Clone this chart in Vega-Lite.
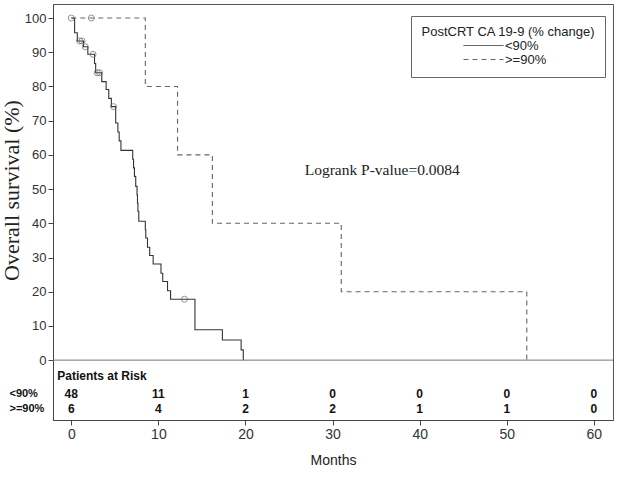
{
  "$schema": "https://vega.github.io/schema/vega-lite/v6.json",
  "width": 560,
  "height": 416,
  "padding": {"left": 0, "top": 4, "right": 5, "bottom": 5},
  "background": "white",
  "config": {
    "view": {"stroke": "#555", "strokeWidth": 1},
    "font": "Liberation Sans",
    "axis": {"grid": false, "domainColor": "#444", "tickColor": "#444", "labelColor": "#333", "titleColor": "#222", "labelFont": "Liberation Sans"}
  },
  "datasets": {
    "one": [{}],
    "km": [
      {"group": "<90%", "time": 0, "surv": 100},
      {"group": "<90%", "time": 0.38, "surv": 95.7},
      {"group": "<90%", "time": 0.69, "surv": 93.3},
      {"group": "<90%", "time": 1.4, "surv": 91.6},
      {"group": "<90%", "time": 1.9, "surv": 89.4},
      {"group": "<90%", "time": 2.67, "surv": 86.7},
      {"group": "<90%", "time": 2.8, "surv": 84.0},
      {"group": "<90%", "time": 3.5, "surv": 81.4},
      {"group": "<90%", "time": 4.0, "surv": 79.1},
      {"group": "<90%", "time": 4.3, "surv": 76.5},
      {"group": "<90%", "time": 4.6, "surv": 74.1},
      {"group": "<90%", "time": 5.1, "surv": 69.3},
      {"group": "<90%", "time": 5.35, "surv": 66.7},
      {"group": "<90%", "time": 5.5, "surv": 64.1},
      {"group": "<90%", "time": 5.7, "surv": 61.3},
      {"group": "<90%", "time": 7.05, "surv": 58.7},
      {"group": "<90%", "time": 7.15, "surv": 56.2},
      {"group": "<90%", "time": 7.25, "surv": 53.7},
      {"group": "<90%", "time": 7.4, "surv": 50.8},
      {"group": "<90%", "time": 7.55, "surv": 48.3},
      {"group": "<90%", "time": 7.6, "surv": 45.9},
      {"group": "<90%", "time": 7.65, "surv": 43.5},
      {"group": "<90%", "time": 7.75, "surv": 40.6},
      {"group": "<90%", "time": 8.5, "surv": 38.2},
      {"group": "<90%", "time": 8.55, "surv": 35.7},
      {"group": "<90%", "time": 8.75, "surv": 33.0},
      {"group": "<90%", "time": 9.0, "surv": 30.6},
      {"group": "<90%", "time": 9.4, "surv": 28.1},
      {"group": "<90%", "time": 10.3, "surv": 25.4},
      {"group": "<90%", "time": 10.5, "surv": 23.0},
      {"group": "<90%", "time": 11.05, "surv": 20.3},
      {"group": "<90%", "time": 11.4, "surv": 17.8},
      {"group": "<90%", "time": 14.2, "surv": 8.9},
      {"group": "<90%", "time": 17.35, "surv": 5.9},
      {"group": "<90%", "time": 19.5, "surv": 3.0},
      {"group": "<90%", "time": 19.75, "surv": 0},
      {"group": ">=90%", "time": 0, "surv": 100},
      {"group": ">=90%", "time": 8.5, "surv": 80},
      {"group": ">=90%", "time": 12.2, "surv": 60},
      {"group": ">=90%", "time": 16.2, "surv": 40},
      {"group": ">=90%", "time": 31.0, "surv": 20},
      {"group": ">=90%", "time": 52.3, "surv": 0}
    ],
    "censor": [
      {"group": ">=90%", "time": 0, "surv": 100},
      {"group": ">=90%", "time": 2.3, "surv": 100},
      {"group": "<90%", "time": 0.95, "surv": 93.3},
      {"group": "<90%", "time": 1.23, "surv": 93.3},
      {"group": "<90%", "time": 1.6, "surv": 91.6},
      {"group": "<90%", "time": 2.5, "surv": 89.4},
      {"group": "<90%", "time": 2.98, "surv": 84.0},
      {"group": "<90%", "time": 3.25, "surv": 84.0},
      {"group": "<90%", "time": 4.85, "surv": 74.1},
      {"group": "<90%", "time": 13.0, "surv": 17.8}
    ],
    "risk": [
      {"row": "<90%", "time": 0, "n": "48"},
      {"row": "<90%", "time": 10, "n": "11"},
      {"row": "<90%", "time": 20, "n": "1"},
      {"row": "<90%", "time": 30, "n": "0"},
      {"row": "<90%", "time": 40, "n": "0"},
      {"row": "<90%", "time": 50, "n": "0"},
      {"row": "<90%", "time": 60, "n": "0"},
      {"row": ">=90%", "time": 0, "n": "6"},
      {"row": ">=90%", "time": 10, "n": "4"},
      {"row": ">=90%", "time": 20, "n": "2"},
      {"row": ">=90%", "time": 30, "n": "2"},
      {"row": ">=90%", "time": 40, "n": "1"},
      {"row": ">=90%", "time": 50, "n": "1"},
      {"row": ">=90%", "time": 60, "n": "0"}
    ]
  },
  "layer": [
    {
      "data": {"name": "km"},
      "mark": {"type": "line", "interpolate": "step-after", "strokeWidth": 1.1},
      "encoding": {
        "x": {"field": "time", "type": "quantitative", "scale": {"domain": [-2.1, 62.2], "nice": false, "zero": false},
          "axis": {"title": "Months", "values": [0, 10, 20, 30, 40, 50, 60], "labelFontSize": 14, "titleFontSize": 14, "titleFontWeight": "normal", "titleFont": "Liberation Sans", "titlePadding": 12, "tickSize": 5, "labelPadding": 2}},
        "y": {"field": "surv", "type": "quantitative", "scale": {"domain": [-17.5, 104.1], "nice": false, "zero": false},
          "axis": {"title": "Overall survival (%)", "values": [0, 10, 20, 30, 40, 50, 60, 70, 80, 90, 100], "labelFontSize": 13, "titleFont": "Liberation Serif", "titleFontSize": 22, "titleFontWeight": "normal", "titlePadding": 1, "titleY": 186, "tickSize": 5, "labelPadding": 2}},
        "color": {"field": "group", "type": "nominal", "scale": {"domain": ["<90%", ">=90%"], "range": ["#333333", "#666666"]},
          "legend": {"title": "PostCRT CA 19-9 (% change)", "orient": "none", "legendX": 358, "legendY": 12, "symbolType": "M-4,0H4", "symbolSize": 100, "symbolStrokeWidth": 1, "symbolOffset": 7, "labelOffset": 15, "rowPadding": -6, "padding": 10, "strokeColor": "#666", "fillColor": "white", "titleFontWeight": "normal", "titleFontSize": 13, "titleAnchor": "middle", "titlePadding": 0, "labelFontSize": 13, "labelColor": "#222", "titleColor": "#222"}},
        "strokeDash": {"field": "group", "type": "nominal", "scale": {"domain": ["<90%", ">=90%"], "range": [[1, 0], [5, 4]]},
          "legend": {"title": "PostCRT CA 19-9 (% change)", "orient": "none", "legendX": 358, "legendY": 12, "symbolType": "M-4,0H4", "symbolSize": 100, "symbolStrokeWidth": 1, "symbolOffset": 7, "labelOffset": 15, "rowPadding": -6, "padding": 10, "strokeColor": "#666", "fillColor": "white", "titleFontWeight": "normal", "titleFontSize": 13, "titleAnchor": "middle", "titlePadding": 0, "labelFontSize": 13, "labelColor": "#222", "titleColor": "#222"}}
      }
    },
    {
      "data": {"name": "censor"},
      "mark": {"type": "point", "shape": "circle", "filled": false, "size": 36, "stroke": "#666", "strokeWidth": 1},
      "encoding": {
        "x": {"field": "time", "type": "quantitative"},
        "y": {"field": "surv", "type": "quantitative"}
      }
    },
    {
      "data": {"name": "one"},
      "mark": {"type": "rule", "color": "#777", "strokeWidth": 1},
      "encoding": {"y": {"datum": 0}}
    },
    {
      "data": {"name": "one"},
      "mark": {"type": "text", "font": "Liberation Serif", "fontSize": 15.5, "color": "#222", "align": "center", "baseline": "middle"},
      "encoding": {"x": {"datum": 35.7}, "y": {"datum": 55.6}, "text": {"value": "Logrank P-value=0.0084"}}
    },
    {
      "data": {"name": "one"},
      "mark": {"type": "text", "fontSize": 12, "fontWeight": "bold", "color": "#111", "align": "left", "baseline": "middle"},
      "encoding": {"x": {"datum": -1.6}, "y": {"datum": -4.6}, "text": {"value": "Patients at Risk"}}
    },
    {
      "data": {"name": "one"},
      "mark": {"type": "text", "fontSize": 11, "fontWeight": "bold", "color": "#111", "align": "left", "baseline": "middle"},
      "encoding": {"x": {"datum": -7.1}, "y": {"datum": -10.0}, "text": {"value": "<90%"}}
    },
    {
      "data": {"name": "one"},
      "mark": {"type": "text", "fontSize": 11, "fontWeight": "bold", "color": "#111", "align": "left", "baseline": "middle"},
      "encoding": {"x": {"datum": -7.1}, "y": {"datum": -14.4}, "text": {"value": ">=90%"}}
    },
    {
      "data": {"name": "risk"},
      "transform": [{"filter": "datum.row === '<90%'"}],
      "mark": {"type": "text", "fontSize": 12, "fontWeight": "bold", "color": "#111", "align": "center", "baseline": "middle"},
      "encoding": {"x": {"field": "time", "type": "quantitative"}, "y": {"datum": -10.0}, "text": {"field": "n"}}
    },
    {
      "data": {"name": "risk"},
      "transform": [{"filter": "datum.row === '>=90%'"}],
      "mark": {"type": "text", "fontSize": 12, "fontWeight": "bold", "color": "#111", "align": "center", "baseline": "middle"},
      "encoding": {"x": {"field": "time", "type": "quantitative"}, "y": {"datum": -14.4}, "text": {"field": "n"}}
    }
  ]
}
